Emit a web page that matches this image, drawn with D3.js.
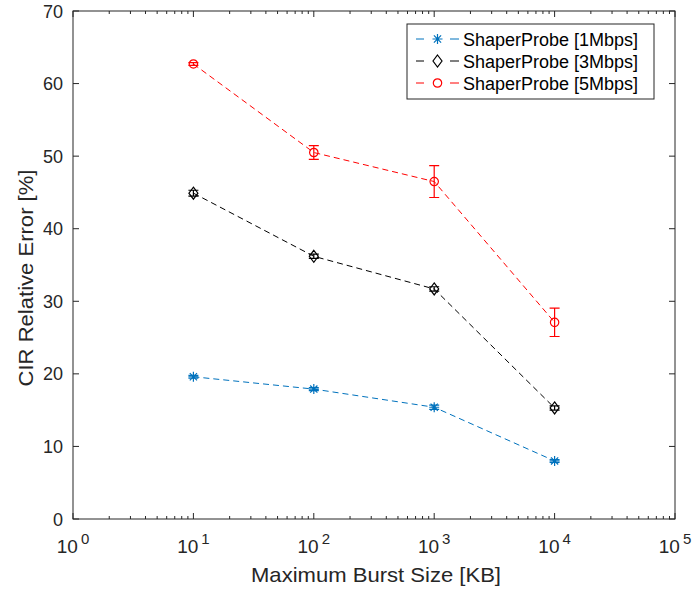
<!DOCTYPE html>
<html lang="en">
<head>
<meta charset="UTF-8">
<title>CIR relative error</title>
<script src="https://cdn.jsdelivr.net/npm/d3@7"></script>
<style>
  body { margin: 0; background: #fff; font-family: 'Liberation Sans', Arial, sans-serif; }
</style>
</head>
<body>
<div id="chart"></div>
<script>
var burstSizes = [10, 100, 1000, 10000];
var seriesNames = ["ShaperProbe [1Mbps]", "ShaperProbe [3Mbps]", "ShaperProbe [5Mbps]"];
var err1M = [19.6, 17.9, 15.4, 8.0];
var err3M = [44.9, 36.2, 31.7, 15.3];
var err5M = [62.7, 50.5, 46.5, 27.1];
var dev1M = [0.2, 0.2, 0.3, 0.2];
var dev3M = [0.4, 0.3, 0.3, 0.3];
var dev5M = [0.2, 0.95, 2.2, 1.95];
var yTicks = [0, 10, 20, 30, 40, 50, 60, 70];
var xTicks = [1, 10, 100, 1000, 10000, 100000];

var colors = ["#0072BD", "#000000", "#FF0000"];
var markers = ["star", "diamond", "circle"];

var w = 693, h = 590;
var m = {left: 73, right: 18, top: 11, bottom: 71};

var svg = d3.select("#chart").append("svg")
  .attr("width", w).attr("height", h);

var x = d3.scaleLog().domain([1, 100000]).range([m.left, w - m.right]);
var y = d3.scaleLinear().domain([0, 70]).range([h - m.bottom, m.top]);

var series = [err1M, err3M, err5M].map(function(vals, i) {
  var dev = [dev1M, dev3M, dev5M][i];
  return {
    name: seriesNames[i], color: colors[i], marker: markers[i],
    pts: burstSizes.map(function(b, j) { return {x: b, y: vals[j], e: dev[j]}; })
  };
});

// box
svg.append("rect")
  .attr("x", m.left).attr("y", m.top)
  .attr("width", w - m.left - m.right).attr("height", h - m.top - m.bottom)
  .attr("fill", "none").attr("stroke", "#262626").attr("stroke-width", 1);

// x ticks: major + minor, bottom and top, pointing inward
var minor = [];
for (var d = 1; d < 100000; d *= 10) {
  for (var k = 2; k <= 9; k++) minor.push(d * k);
}
var tickG = svg.append("g").attr("stroke", "#262626").attr("stroke-width", 1);
xTicks.forEach(function(t) {
  tickG.append("line").attr("x1", x(t)).attr("x2", x(t)).attr("y1", y(0)).attr("y2", y(0) - 6);
  tickG.append("line").attr("x1", x(t)).attr("x2", x(t)).attr("y1", y(70)).attr("y2", y(70) + 6);
});
minor.forEach(function(t) {
  tickG.append("line").attr("x1", x(t)).attr("x2", x(t)).attr("y1", y(0)).attr("y2", y(0) - 3);
  tickG.append("line").attr("x1", x(t)).attr("x2", x(t)).attr("y1", y(70)).attr("y2", y(70) + 3);
});
yTicks.forEach(function(t) {
  tickG.append("line").attr("x1", x(1)).attr("x2", x(1) + 6).attr("y1", y(t)).attr("y2", y(t));
  tickG.append("line").attr("x1", x(100000)).attr("x2", x(100000) - 6).attr("y1", y(t)).attr("y2", y(t));
});

// y tick labels
svg.append("g").selectAll("text").data(yTicks).enter().append("text")
  .attr("x", x(1) - 10).attr("y", function(d) { return y(d) + 6.5; })
  .attr("text-anchor", "end").attr("font-size", 18).attr("fill", "#262626")
  .text(function(d) { return d; });

// x tick labels 10^n
var xl = svg.append("g").selectAll("text").data(xTicks).enter().append("text")
  .attr("x", function(d) { return x(d); }).attr("y", y(0) + 34)
  .attr("text-anchor", "middle").attr("font-size", 19).attr("fill", "#262626");
xl.append("tspan").text("10");
xl.append("tspan").attr("dx", 3).attr("dy", -9).attr("font-size", 15)
  .text(function(d) { return Math.round(Math.log10(d)); });

// axis titles
svg.append("text").attr("x", (x(1) + x(100000)) / 2 + 2).attr("y", 582)
  .attr("text-anchor", "middle").attr("font-size", 21).attr("fill", "#262626")
  .attr("textLength", 250).attr("lengthAdjust", "spacingAndGlyphs")
  .text("Maximum Burst Size [KB]");
svg.append("text")
  .attr("transform", "translate(33,278) rotate(-90)")
  .attr("text-anchor", "middle").attr("font-size", 21).attr("fill", "#262626")
  .attr("textLength", 217).attr("lengthAdjust", "spacingAndGlyphs")
  .text("CIR Relative Error [%]");

function drawMarker(g, type, color) {
  if (type === "star") {
    var r = 5;
    g.append("path")
      .attr("d", "M" + (-r) + ",0H" + r + "M0," + (-r) + "V" + r +
        "M" + (-r * 0.72) + "," + (-r * 0.72) + "L" + (r * 0.72) + "," + (r * 0.72) +
        "M" + (-r * 0.72) + "," + (r * 0.72) + "L" + (r * 0.72) + "," + (-r * 0.72))
      .attr("stroke", color).attr("stroke-width", 1.2).attr("fill", "none");
  } else if (type === "diamond") {
    g.append("path").attr("d", "M0,-6L4.5,0L0,6L-4.5,0Z")
      .attr("stroke", color).attr("stroke-width", 1.2).attr("fill", "none");
  } else {
    g.append("circle").attr("r", 4.2)
      .attr("stroke", color).attr("stroke-width", 1.2).attr("fill", "none");
  }
}

var line = d3.line()
  .x(function(d) { return x(d.x); })
  .y(function(d) { return y(d.y); });

series.forEach(function(s) {
  var g = svg.append("g");
  g.append("path").attr("d", line(s.pts))
    .attr("fill", "none").attr("stroke", s.color).attr("stroke-width", 1)
    .attr("stroke-dasharray", "6,4");
  s.pts.forEach(function(p) {
    var cx = x(p.x);
    g.append("path")
      .attr("d", "M" + cx + "," + y(p.y - p.e) + "V" + y(p.y + p.e) +
        "M" + (cx - 5) + "," + y(p.y - p.e) + "H" + (cx + 5) +
        "M" + (cx - 5) + "," + y(p.y + p.e) + "H" + (cx + 5))
      .attr("stroke", s.color).attr("stroke-width", 1.2).attr("fill", "none");
    drawMarker(g.append("g").attr("transform", "translate(" + cx + "," + y(p.y) + ")"), s.marker, s.color);
  });
});

// legend
var lg = svg.append("g").attr("transform", "translate(407,24)");
lg.append("rect").attr("width", 247).attr("height", 75)
  .attr("fill", "#fff").attr("stroke", "#262626").attr("stroke-width", 1);
series.forEach(function(s, i) {
  var ly = 15 + i * 22;
  lg.append("line").attr("x1", 9).attr("x2", 52).attr("y1", ly).attr("y2", ly)
    .attr("stroke", s.color).attr("stroke-width", 1).attr("stroke-dasharray", "8,26,9");
  drawMarker(lg.append("g").attr("transform", "translate(30.5," + ly + ")"), s.marker, s.color);
  lg.append("text").attr("x", 56).attr("y", ly + 6.5)
    .attr("font-size", 18).attr("fill", "#000").text(s.name);
});
</script>
</body>
</html>
